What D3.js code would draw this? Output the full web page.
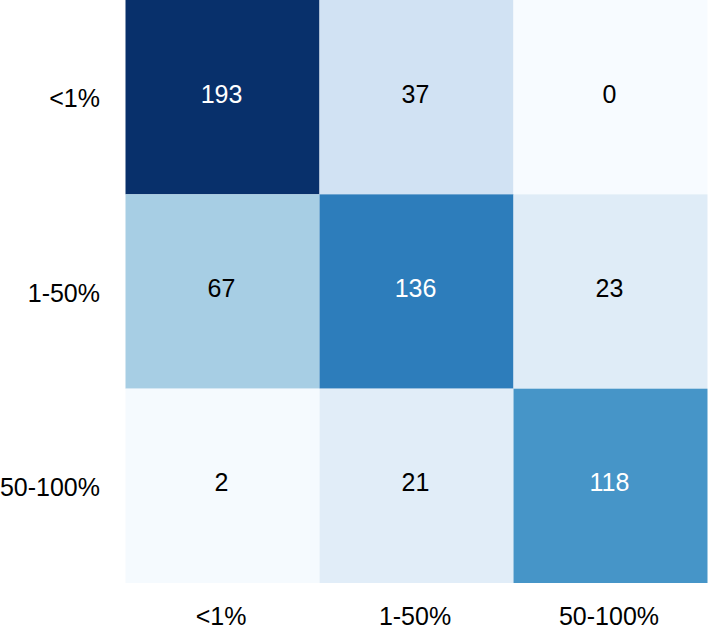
<!DOCTYPE html>
<html>
<head>
<meta charset="utf-8">
<script src="https://cdn.jsdelivr.net/npm/d3@7"></script>
<style>
html,body{margin:0;padding:0;background:#fff;}
svg{display:block;}
</style>
</head>
<body>
<svg id="chart" width="709" height="630"></svg>
<script>
const rowLabels = ["<1%", "1-50%", "50-100%"];
const colLabels = ["<1%", "1-50%", "50-100%"];
const row0 = [193, 37, 0];
const row1 = [67, 136, 23];
const row2 = [2, 21, 118];
const matrix = [row0, row1, row2];

const blues = ["#f7fbff","#deebf7","#c6dbef","#9ecae1","#6baed6","#4292c6","#2171b5","#08519c","#08306b"];

const svg = d3.select("#chart");
const mLeft = 125.5, mTop = 0, W = 582, H = 583;
const FONT = "Liberation Sans, Arial, Helvetica, sans-serif";
const FS = 25;
const x = d3.scaleBand().domain(colLabels).range([mLeft, mLeft + W]);
const y = d3.scaleBand().domain(rowLabels).range([mTop, mTop + H]);
const vmax = d3.max(matrix.flat()), vmin = d3.min(matrix.flat());
const color = d3.scaleLinear()
  .domain(blues.map((_, i) => vmin + (vmax - vmin) * i / (blues.length - 1)))
  .range(blues)
  .interpolate(d3.interpolateRgb);

const cells = [];
matrix.forEach((row, i) => row.forEach((v, j) => cells.push({r: rowLabels[i], c: colLabels[j], v})));

function lum(c) {
  const rgb = d3.rgb(c);
  const f = u => { u /= 255; return u <= 0.03928 ? u / 12.92 : Math.pow((u + 0.055) / 1.055, 2.4); };
  return 0.2126 * f(rgb.r) + 0.7152 * f(rgb.g) + 0.0722 * f(rgb.b);
}

svg.append("g").selectAll("rect").data(cells).join("rect")
  .attr("x", d => x(d.c)).attr("y", d => y(d.r))
  .attr("width", x.bandwidth()).attr("height", y.bandwidth())
  .attr("fill", d => color(d.v));

svg.append("g").selectAll("text").data(cells).join("text")
  .attr("x", d => x(d.c) + x.bandwidth() / 2 - 1)
  .attr("y", d => y(d.r) + y.bandwidth() / 2)
  .attr("dy", 5.5)
  .attr("text-anchor", "middle")
  .attr("font-family", FONT).attr("font-size", FS)
  .attr("fill", d => lum(color(d.v)) > 0.408 ? "#000" : "#fff")
  .text(d => d.v);

const xAxis = svg.append("g").attr("transform", `translate(0,${mTop + H})`)
  .call(d3.axisBottom(x).tickSize(0).tickPadding(0));
const yAxis = svg.append("g").attr("transform", `translate(${mLeft},0)`)
  .call(d3.axisLeft(y).tickSize(0).tickPadding(25.5));
[xAxis, yAxis].forEach(a => {
  a.select(".domain").remove();
  a.selectAll("text").attr("font-family", FONT).attr("font-size", FS).attr("fill", "#000");
});
xAxis.selectAll("text").attr("dy", 42).attr("dx", -1.5);
yAxis.selectAll("text").attr("dy", 10);
</script>
</body>
</html>
